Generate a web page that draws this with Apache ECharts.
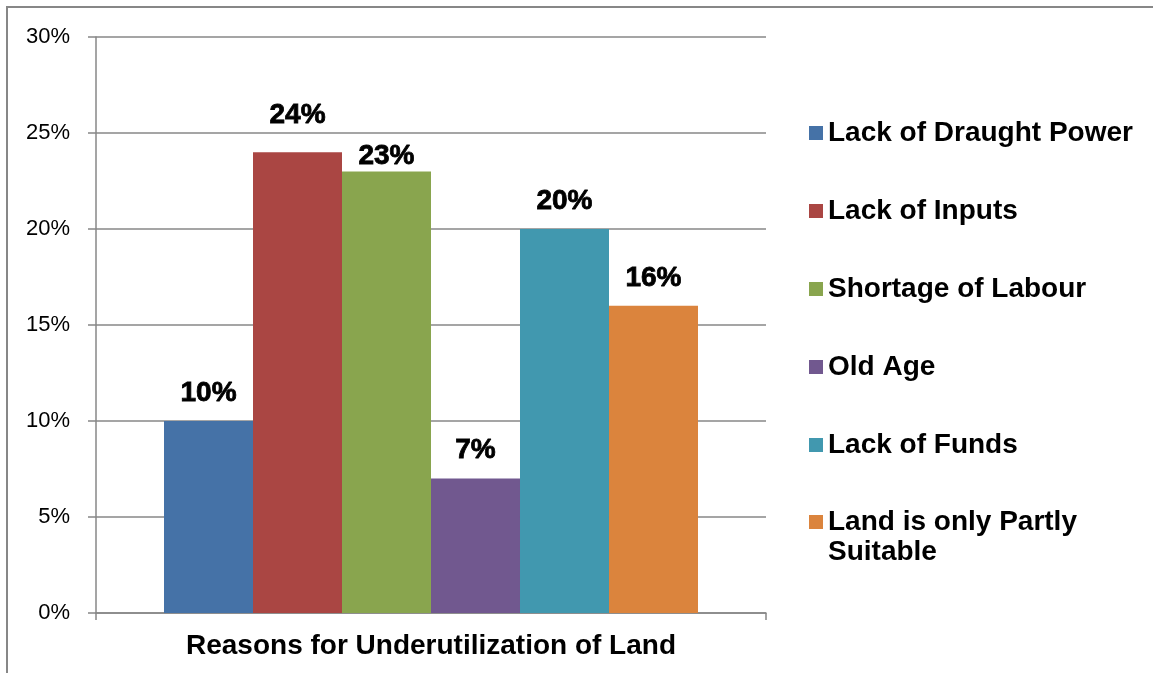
<!DOCTYPE html>
<html>
<head>
<meta charset="utf-8">
<script src="https://cdn.jsdelivr.net/npm/echarts@6/dist/echarts.min.js"></script>
<style>html,body{margin:0;padding:0;background:#fff;}#c{width:1153px;height:675px;}</style>
</head>
<body>
<div id="c"></div>
<script>
const category = ['Reasons for Underutilization of Land'];
const seriesNames = ['Lack of Draught Power', 'Lack of Inputs', 'Shortage of Labour', 'Old Age', 'Lack of Funds', 'Land is only Partly Suitable'];
const seriesValues = [10, 24, 23, 7, 20, 16];
const colors = ['#4572A7', '#AA4643', '#89A54E', '#71588F', '#4198AF', '#DB843D'];
const yTicks = { min: 0, max: 30, interval: 5 };
const labelDistances = [14, 23, 1, 14, 14, 14];

const chart = echarts.init(document.getElementById('c'));
const font = '"Liberation Sans", Arial, sans-serif';
const legendText = { fontFamily: font, fontWeight: 'bold', fontSize: 28, color: '#000', lineHeight: 30 };

const series = seriesNames.map((n, i) => ({
  name: n,
  type: 'bar',
  data: [seriesValues[i]],
  itemStyle: { color: colors[i] },
  barGap: '0%',
  barCategoryGap: '20.3%',
  label: {
    show: true, position: 'top', distance: labelDistances[i],
    formatter: '{c}%',
    fontFamily: font, fontWeight: 'bold', fontSize: 28, color: '#000',
    textBorderColor: '#000', textBorderWidth: 0.8
  }
}));

chart.setOption({
  animation: false,
  color: colors,
  grid: { left: 96, right: 387, top: 37, bottom: 62, containLabel: false },
  legend: [
    {
      data: seriesNames.slice(0, 5), orient: 'vertical', left: 809, top: 118, padding: 0,
      itemGap: 48, itemWidth: 14, itemHeight: 14, icon: 'rect', textStyle: legendText
    },
    {
      data: [seriesNames[5]],
      orient: 'vertical', left: 809, top: 477, padding: 0,
      itemWidth: 14, itemHeight: 14, icon: 'rect',
      formatter: () => ' \nLand is only Partly\nSuitable',
      textStyle: legendText
    }
  ],
  xAxis: {
    type: 'category', data: category,
    axisLine: { show: true, lineStyle: { color: '#878787', width: 1.5 } },
    axisTick: { show: true, length: 7, lineStyle: { color: '#878787', width: 1.5 } },
    axisLabel: { fontFamily: font, fontWeight: 'bold', fontSize: 28, color: '#000', margin: 19 }
  },
  yAxis: {
    type: 'value', min: yTicks.min, max: yTicks.max, interval: yTicks.interval,
    axisLine: { show: true, lineStyle: { color: '#878787', width: 1.5 } },
    axisTick: { show: true, length: 8, lineStyle: { color: '#878787', width: 1.5 } },
    splitLine: { show: true, lineStyle: { color: '#878787', width: 1.5 } },
    axisLabel: { formatter: '{value}%', fontFamily: font, fontSize: 22, color: '#000', margin: 26 }
  },
  graphic: [{
    type: 'polyline', silent: true,
    shape: { points: [[7, 673], [7, 7], [1153, 7]] },
    style: { stroke: '#878787', lineWidth: 2, fill: null }
  }],
  series: series
});
</script>
</body>
</html>
